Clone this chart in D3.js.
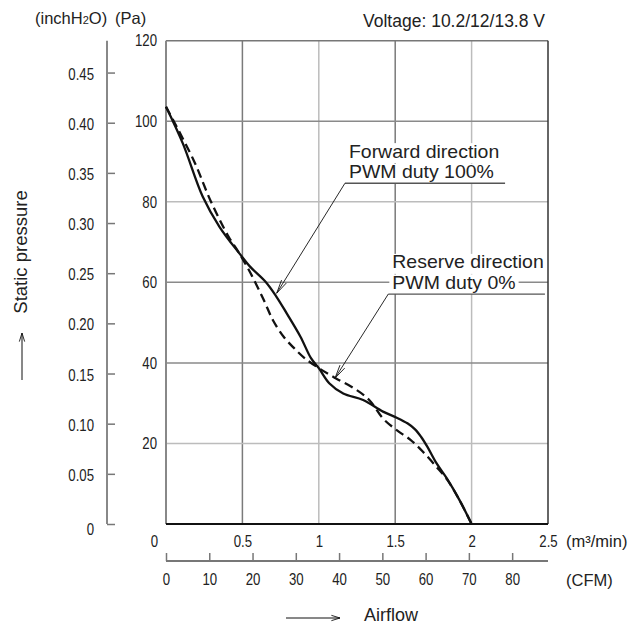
<!DOCTYPE html>
<html><head><meta charset="utf-8">
<script src="https://cdn.jsdelivr.net/npm/d3@7"></script>
<style>
html,body{margin:0;padding:0;background:#fff;}
svg{display:block;}
.num{font-family:"Liberation Sans",Arial,Helvetica,sans-serif;font-size:16.5px;fill:#222;}
.lab{font-family:"Liberation Sans",Arial,Helvetica,sans-serif;fill:#222;}
</style></head>
<body>
<svg id="c" width="643" height="625"></svg>
<script>
// ---- data (airflow m3/min, static pressure Pa) ----
const forwardQ = [0, 0.11, 0.24, 0.35, 0.48, 0.55, 0.65, 0.72, 0.79, 0.88, 0.95, 1.0, 1.07, 1.16, 1.29, 1.42, 1.51, 1.58, 1.63, 1.67, 1.71, 1.77, 1.84, 1.92, 2.0];
const forwardP = [103.6, 94.5, 81.3, 73.8, 67.2, 63.9, 60.2, 56.6, 52.3, 46.5, 41.1, 38.7, 34.9, 32.4, 30.8, 27.9, 26.4, 25.0, 23.5, 21.6, 19.2, 15.1, 11.2, 6.0, 0];
const reverseQ = [0, 0.18, 0.29, 0.41, 0.48, 0.56, 0.64, 0.70, 0.77, 0.84, 0.91, 1.0, 1.11, 1.23, 1.33, 1.42, 1.51, 1.60, 1.68, 1.77, 1.84, 1.92, 2.0];
const reverseP = [103.6, 90.4, 80.4, 71.3, 67.2, 61.8, 55.6, 50.6, 46.5, 43.6, 41.1, 38.7, 36.2, 33.7, 30.8, 26.2, 23.3, 20.9, 18.0, 14.2, 11.0, 6.0, 0];

const paTicks = [20, 40, 60, 80, 100, 120];
const inchTicks = [0, 0.05, 0.10, 0.15, 0.20, 0.25, 0.30, 0.35, 0.40, 0.45];
const m3Ticks = [0, 0.5, 1, 1.5, 2, 2.5];
const m3TickLabels = ["0", "0.5", "1", "1.5", "2", "2.5"];
const cfmTicks = [0, 10, 20, 30, 40, 50, 60, 70, 80];
const gridQ = [0.5, 1, 1.5, 2];
const gridP = [20, 40, 60, 80, 100];

const voltageText = "Voltage: 10.2/12/13.8 V";
// annotations: label anchor (underline start) in data units, arrow tip, underline end
const annotations = [
  {lines: ["Forward direction", "PWM duty 100%"], q: 1.171, p: 84.6, qEnd: 2.219, tipQ: 0.7245, tipP: 57.3},
  {lines: ["Reserve direction", "PWM duty 0%"], q: 1.455, p: 57.1, qEnd: 2.48, tipQ: 1.106, tipP: 36.2}
];

const PA_PER_INCH = 249.089;
const M3_PER_CFM = 0.0283168;
const NARROW = 0.8;

const svg = d3.select("#c");
const x = d3.scaleLinear().domain([0, 2.5]).range([166, 548]);
const y = d3.scaleLinear().domain([0, 120]).range([524, 40.7]);
const yIn = d3.scaleLinear().domain([0, 120 / PA_PER_INCH]).range([524, 40.7]);
const xCfm = d3.scaleLinear().domain([0, 2.5 / M3_PER_CFM]).range([166, 548]);

function condense(sel, k) {
  sel.each(function () {
    const w = this.getComputedTextLength();
    if (w > 0) {
      this.setAttribute("textLength", (w * k).toFixed(2));
      this.setAttribute("lengthAdjust", "spacingAndGlyphs");
    }
  });
}

// grid
const darkV = new Set([0.5, 1.5]);
svg.append("g").selectAll("line").data(gridQ).join("line")
  .attr("x1", d => x(d)).attr("x2", d => x(d)).attr("y1", y(120)).attr("y2", y(0))
  .attr("stroke", d => darkV.has(d) ? "#7a7a7a" : "#bcbcbc").attr("stroke-width", 1.5);
const lightH = new Set([20, 80]);
svg.append("g").selectAll("line").data(gridP).join("line")
  .attr("x1", x(0)).attr("x2", x(2.5)).attr("y1", d => y(d)).attr("y2", d => y(d))
  .attr("stroke", d => lightH.has(d) ? "#bcbcbc" : "#8a8a8a").attr("stroke-width", 1.5);

// frame
svg.append("line").attr("x1", x(0)).attr("x2", x(2.5)).attr("y1", y(120)).attr("y2", y(120)).attr("stroke", "#777").attr("stroke-width", 1.5);
svg.append("line").attr("x1", x(2.5)).attr("x2", x(2.5)).attr("y1", y(120)).attr("y2", y(0)).attr("stroke", "#333").attr("stroke-width", 1.5);
svg.append("line").attr("x1", x(0)).attr("x2", x(0)).attr("y1", y(120)).attr("y2", y(0)).attr("stroke", "#888").attr("stroke-width", 2);

// Pa axis labels
const gPa = svg.append("g").attr("transform", `translate(${x(0)},0)`)
  .call(d3.axisLeft(y).tickValues(paTicks).tickSize(0).tickPadding(9).tickFormat(d3.format("d")));
gPa.select(".domain").remove();
gPa.selectAll("text").attr("class", "num").attr("font-family", null).attr("font-size", null).call(condense, NARROW);

// inchH2O axis
const gIn = svg.append("g").attr("transform", "translate(107,0)")
  .call(d3.axisLeft(yIn).tickValues(inchTicks).tickSizeInner(-8).tickSizeOuter(0).tickPadding(13)
    .tickFormat(d => d === 0 ? "0" : d3.format(".2f")(d)));
gIn.select(".domain").remove();
gIn.selectAll(".tick line").attr("stroke", "#777").attr("stroke-width", 1.5);
gIn.selectAll("text").attr("class", "num").attr("font-family", null).attr("font-size", null)
  .attr("dy", d => d === 0 ? "0.62em" : "0.40em").call(condense, NARROW);
svg.append("line").attr("x1", 107).attr("x2", 107).attr("y1", yIn(120 / PA_PER_INCH)).attr("y2", yIn(0))
  .attr("stroke", "#888").attr("stroke-width", 2);

// m3/min labels
const gX = svg.append("g").attr("transform", `translate(0,${y(0)})`)
  .call(d3.axisBottom(x).tickValues(m3Ticks).tickSize(0).tickPadding(11).tickFormat((d, i) => m3TickLabels[i]));
gX.select(".domain").remove();
gX.selectAll("text").attr("class", "num").attr("font-family", null).attr("font-size", null)
  .attr("dx", d => d === 0 ? -12 : 0).call(condense, NARROW);

// CFM axis
const gC = svg.append("g").attr("transform", "translate(0,561)")
  .call(d3.axisBottom(xCfm).tickValues(cfmTicks).tickSizeInner(-8).tickSizeOuter(0).tickPadding(12).tickFormat(d3.format("d")));
gC.select(".domain").remove();
gC.selectAll(".tick line").attr("stroke", "#777").attr("stroke-width", 1.5);
gC.selectAll("text").attr("class", "num").attr("font-family", null).attr("font-size", null).call(condense, NARROW);
svg.append("line").attr("x1", xCfm(0)).attr("x2", x(2.5)).attr("y1", 561).attr("y2", 561).attr("stroke", "#777").attr("stroke-width", 2);

// bottom plot edge (black)
svg.append("line").attr("x1", x(0)).attr("x2", x(2.5)).attr("y1", y(0)).attr("y2", y(0)).attr("stroke", "#111").attr("stroke-width", 1.8);

// units
svg.append("text").attr("class", "num").attr("x", 566).attr("y", 546.5).text("(m³/min)");
svg.append("text").attr("class", "num").attr("x", 566).attr("y", 585.5).text("(CFM)");
const tUnits = svg.append("text").attr("class", "num").attr("x", 35).attr("y", 24).attr("font-size", 17);
tUnits.append("tspan").text("(inchH");
tUnits.append("tspan").attr("font-size", 11).text("2");
tUnits.append("tspan").text("O)");
svg.append("text").attr("class", "num").attr("x", 115).attr("y", 24).attr("font-size", 17).text("(Pa)");

svg.append("text").attr("class", "lab").attr("x", 545).attr("y", 27).attr("text-anchor", "end")
  .attr("font-size", 17.5).text(voltageText);

// curves
const line = d3.line().x(d => x(d[0])).y(d => y(d[1])).curve(d3.curveCatmullRom.alpha(0.5));
const fwd = forwardQ.map((q, i) => [q, forwardP[i]]);
const rev = reverseQ.map((q, i) => [q, reverseP[i]]);
svg.append("path").datum(rev).attr("d", line).attr("fill", "none").attr("stroke", "#111")
  .attr("stroke-width", 2.3).attr("stroke-dasharray", "9,5");
svg.append("path").datum(fwd).attr("d", line).attr("fill", "none").attr("stroke", "#111")
  .attr("stroke-width", 2.3);

// annotations
function arrowHead(g, x0, y0, x1, y1, len, ang) {
  const a = Math.atan2(y0 - y1, x0 - x1);
  [ang, -ang].forEach(s => {
    g.append("line").attr("x1", x1).attr("y1", y1)
      .attr("x2", x1 + len * Math.cos(a + s)).attr("y2", y1 + len * Math.sin(a + s))
      .attr("stroke", "#111").attr("stroke-width", 0.9);
  });
}
const FS = 18.2, LH = 20.6, STRETCH = 1.07;
annotations.forEach(a => {
  const g = svg.append("g");
  const ux = x(a.q), uy = y(a.p);
  const bg = g.append("g");
  a.lines.forEach((s, i) => {
    const base = uy - 5 - (a.lines.length - 1 - i) * LH;
    const t = g.append("text").attr("class", "lab").attr("font-size", FS)
      .attr("x", ux + 4).attr("y", base).text(s).call(condense, STRETCH);
    const w = +t.attr("textLength");
    const top = base - FS * 0.8;
    const bottom = i === a.lines.length - 1 ? uy : base + FS * 0.3;
    bg.append("rect").attr("x", ux + 1).attr("y", top)
      .attr("width", w + 6).attr("height", bottom - top).attr("fill", "#fff");
  });
  g.append("line").attr("x1", ux).attr("x2", x(a.qEnd)).attr("y1", uy).attr("y2", uy)
    .attr("stroke", "#555").attr("stroke-width", 1.3);
  const tx = x(a.tipQ), ty = y(a.tipP);
  g.append("line").attr("x1", ux).attr("y1", uy).attr("x2", tx).attr("y2", ty)
    .attr("stroke", "#111").attr("stroke-width", 0.9);
  arrowHead(g, ux, uy, tx, ty, 14, 0.2);
});

// axis titles
svg.append("text").attr("class", "lab").attr("font-size", 18.5)
  .attr("transform", "translate(27,252) rotate(-90)").attr("text-anchor", "middle").text("Static pressure");
const ga = svg.append("g");
ga.append("line").attr("x1", 22).attr("x2", 22).attr("y1", 380).attr("y2", 333).attr("stroke", "#111").attr("stroke-width", 1);
arrowHead(ga, 22, 380, 22, 333, 9, 0.3);
const gb = svg.append("g");
gb.append("line").attr("x1", 286).attr("x2", 340).attr("y1", 618).attr("y2", 618).attr("stroke", "#111").attr("stroke-width", 1);
arrowHead(gb, 286, 618, 340, 618, 9, 0.3);
svg.append("text").attr("class", "lab").attr("font-size", 18).attr("x", 364).attr("y", 620.5).text("Airflow");
</script>
</body></html>
